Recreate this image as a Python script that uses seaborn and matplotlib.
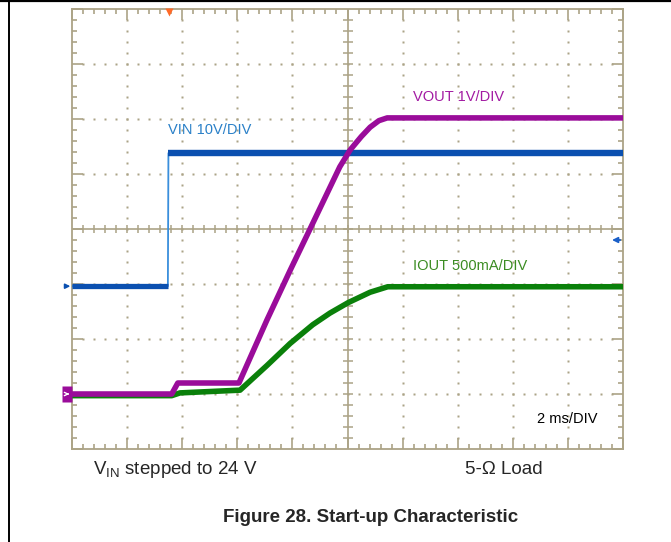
import numpy as np
import pandas as pd
import matplotlib
matplotlib.use('Agg')
import matplotlib.pyplot as plt
import matplotlib.transforms as mtransforms
from matplotlib.lines import Line2D
import seaborn as sns

# scope traces, in divisions (x: 0..10 at 2 ms/div, y: 0..8)
vin_t = [0.0, 1.74, 1.75, 10.0]
vin_v = [2.96, 2.96, 5.38, 5.38]

vout_t = [0.0, 1.81, 1.92, 3.03, 3.54, 3.96, 4.32, 4.86, 5.05, 5.25, 5.41, 5.57, 5.72, 10.0]
vout_v = [1.0, 1.0, 1.2, 1.2, 2.35, 3.25, 4.0, 5.13, 5.44, 5.68, 5.85, 5.97, 6.02, 6.02]

iout_t = [0.0, 1.81, 1.96, 3.05, 3.54, 3.96, 4.37, 4.68, 5.01, 5.41, 5.73, 10.0]
iout_v = [0.97, 0.97, 1.02, 1.07, 1.52, 1.92, 2.26, 2.47, 2.66, 2.85, 2.95, 2.95]

trig_t = 1.76
ref_arrow_v = 3.8

labels = ['VIN 10V/DIV', 'VOUT 1V/DIV', 'IOUT 500mA/DIV', '2 ms/DIV']
label_pos = [(1.74, 5.8), (6.19, 6.4), (6.19, 3.33), (8.44, 0.55)]

GRID = '#aba386'
BLUE = '#0b50b0'
PURPLE = '#9a0c9a'
GREEN = '#0a800a'

sns.set_style('white')
plt.rcParams['font.family'] = ['Liberation Sans', 'DejaVu Sans']
plt.rcParams['mathtext.fontset'] = 'custom'
plt.rcParams['mathtext.rm'] = 'Liberation Sans'

W, H = 671, 542
fig = plt.figure(figsize=(W / 100, H / 100), dpi=100)
ax = fig.add_axes([72 / W, (H - 449) / H, 551 / W, 440 / H])
ax.set_xlim(0, 10)
ax.set_ylim(0, 8)

# graticule
for s in ax.spines.values():
    s.set_color(GRID)
    s.set_linewidth(1.3)
ax.set_xticks(np.arange(0, 11, 1))
ax.set_yticks(np.arange(0, 9, 1))
ax.set_xticks(np.arange(0, 10.01, 0.2), minor=True)
ax.set_yticks(np.arange(0, 8.01, 0.2), minor=True)
ax.tick_params(which='both', direction='in', top=True, right=True, bottom=True, left=True,
               labelbottom=False, labelleft=False, color=GRID, width=1.2)
ax.tick_params(which='major', length=8)
ax.tick_params(which='minor', length=3.5)

dots = np.arange(0.2, 10, 0.2)
yy = np.arange(0.2, 8, 0.2)
for gx in [1, 2, 3, 4, 6, 7, 8, 9]:
    ax.plot(np.full_like(yy, gx), yy, ls='none', marker='s', ms=1.5, mec='none', color=GRID, zorder=1)
for gy in [1, 2, 3, 5, 6, 7]:
    ax.plot(dots, np.full_like(dots, gy), ls='none', marker='s', ms=1.5, mec='none', color=GRID, zorder=1)
ax.axhline(4, color=GRID, lw=1.2, zorder=1)
ax.axvline(5, color=GRID, lw=1.2, zorder=1)
ax.plot(dots, np.full_like(dots, 4.0), ls='none', marker='|', ms=6, mew=1.1, color=GRID, zorder=1)
ax.plot(np.full_like(yy, 5.0), yy, ls='none', marker='_', ms=7, mew=1.1, color=GRID, zorder=1)

# traces
vin = pd.DataFrame({'t': vin_t, 'v': vin_v})
vout = pd.DataFrame({'t': vout_t, 'v': vout_v})
iout = pd.DataFrame({'t': iout_t, 'v': iout_v})

sns.lineplot(data=vin, x='t', y='v', estimator=None, sort=False, color='#3a8fdc', lw=1.3, ax=ax, zorder=3)
sns.lineplot(data=vin.iloc[:2], x='t', y='v', estimator=None, sort=False, color=BLUE, lw=3.8,
             solid_capstyle='butt', ax=ax, zorder=3)
sns.lineplot(data=vin.iloc[2:], x='t', y='v', estimator=None, sort=False, color=BLUE, lw=4.6,
             solid_capstyle='butt', ax=ax, zorder=3)
sns.lineplot(data=iout, x='t', y='v', estimator=None, sort=False, color=GREEN, lw=4.0,
             solid_capstyle='butt', ax=ax, zorder=4)
sns.lineplot(data=vout, x='t', y='v', estimator=None, sort=False, color=PURPLE, lw=4.0,
             solid_capstyle='butt', ax=ax, zorder=5)
ax.set_xlabel('')
ax.set_ylabel('')

# channel markers
left5 = mtransforms.offset_copy(ax.transData, fig=fig, x=-5, y=0, units='dots')
ax.plot(0, vout_v[0], marker=[(-0.32, -0.5), (0.32, -0.5), (0.32, 0.5), (-0.32, 0.5)], ms=11.5,
        color=PURPLE, mec='none', transform=left5, clip_on=False, zorder=6)
ax.annotate('', xy=(0, vout_v[0]), xytext=(-7, 0), textcoords='offset pixels',
            arrowprops=dict(arrowstyle='->', color='white', lw=1.0, mutation_scale=6),
            annotation_clip=False, zorder=7)
ax.annotate('', xy=(0.02, vin_v[0]), xytext=(-10, 0), textcoords='offset pixels',
            arrowprops=dict(arrowstyle='-|>', color=BLUE, lw=1.2, mutation_scale=7),
            annotation_clip=False, zorder=7)
ax.annotate('', xy=(9.75, ref_arrow_v), xytext=(10.0, ref_arrow_v),
            arrowprops=dict(arrowstyle='-|>', color='#1a5fc8', lw=1.3, mutation_scale=8),
            annotation_clip=False, zorder=7)
down3 = mtransforms.offset_copy(ax.transData, fig=fig, x=0, y=-3, units='dots')
ax.plot(trig_t, 8, marker='v', ms=6, color='#ff6a28', mec='none', transform=down3, clip_on=False, zorder=7)

# trace labels
label_colors = ['#2a80c8', '#a21aa2', '#3b8c22', 'black']
for txt, (lx, ly), c in zip(labels, label_pos, label_colors):
    ax.text(lx, ly, txt, color=c, fontsize=10.5, ha='left', va='center', zorder=8)

# captions below the screen
fig.text(93 / W, 1 - 470 / H, r'V$_\mathrm{IN}$ stepped to 24 V', fontsize=13.5, ha='left', va='center')
fig.text(465 / W, 1 - 470 / H, '5-\u03a9 Load', fontsize=13.5, ha='left', va='center')
fig.text(371 / W, 1 - 517 / H, 'Figure 28. Start-up Characteristic', fontsize=13.5,
         fontweight='bold', ha='center', va='center')

# page frame
fig.add_artist(Line2D([0, 1], [1 - 0.5 / H, 1 - 0.5 / H], color='black', lw=1.6, transform=fig.transFigure))
fig.add_artist(Line2D([8.5 / W, 8.5 / W], [0, 1], color='black', lw=1.4, transform=fig.transFigure))

fig.savefig('out.png', dpi=100)
